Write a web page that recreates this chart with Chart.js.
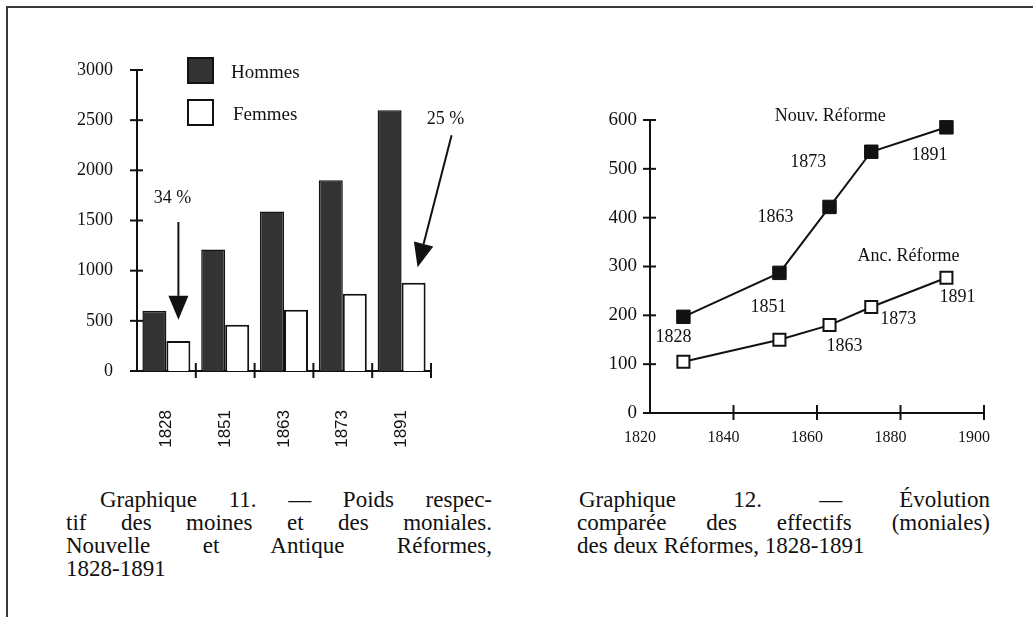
<!DOCTYPE html>
<html><head><meta charset="utf-8">
<script src="https://cdn.jsdelivr.net/npm/chart.js@4/dist/chart.umd.min.js"></script>
<style>
html,body{margin:0;padding:0;background:#fff;}
body{width:1033px;height:617px;position:relative;overflow:hidden;font-family:"Liberation Serif",serif;}
#frame{position:absolute;left:6px;top:6px;width:1100px;height:700px;border-left:2px solid #3a3a3a;border-top:2px solid #3a3a3a;}
.c{position:absolute;}
.cap{position:absolute;font-family:"Liberation Serif",serif;font-size:23px;line-height:23px;color:#111;}
.cap div{text-align:justify;text-align-last:justify;white-space:nowrap;}
.cap div.last{text-align-last:left;}
</style></head>
<body>
<div id="frame"></div>
<div class="c" style="left:40px;top:40px;"><canvas id="c1" width="440" height="430"></canvas></div>
<div class="c" style="left:560px;top:80px;"><canvas id="c2" width="460" height="400"></canvas></div>
<div class="cap" style="left:66px;top:488px;width:426px;">
  <div style="padding-left:34px">Graphique 11. — Poids respec-</div>
  <div>tif des moines et des moniales.</div>
  <div>Nouvelle et Antique Réformes,</div>
  <div class="last">1828-1891</div>
</div>
<div class="cap" style="left:577px;top:488px;width:413px;">
  <div style="padding-left:2px">Graphique 12. — Évolution</div>
  <div>comparée des effectifs (moniales)</div>
  <div class="last">des deux Réformes, 1828-1891</div>
</div>
<script>
// ---------- data: chart 1 ----------
const years1 = ['1828', '1851', '1863', '1873', '1891'];
const hommes = [600, 1210, 1590, 1900, 2600];
const femmes = [300, 460, 610, 770, 880];
const seriesNames1 = ['Hommes', 'Femmes'];
const yTicks1 = [0, 500, 1000, 1500, 2000, 2500, 3000];
const shareLabels = ['34 %', '25 %'];
const shareIndex = [0, 4];          // category the arrow points at
const shareText = [1720, 2510];     // value level of the text
const shareTail = [1485, 2350];     // value level of the arrow tail
const shareTip = [510, 1035];       // value level of the arrow tip

// ---------- data: chart 2 ----------
const years2 = [1828, 1851, 1863, 1873, 1891];
const nouv = [197, 287, 422, 535, 585];
const anc = [105, 150, 180, 217, 277];
const seriesNames2 = ['Nouv. Réforme', 'Anc. Réforme'];
const nouvLabels = ['1828', '1851', '1863', '1873', '1891'];
const ancLabels = ['', '', '1863', '1873', '1891'];
const xTicks2 = [1820, 1840, 1860, 1880, 1900];
const yTicks2 = [0, 100, 200, 300, 400, 500, 600];

// ---------- styling / placement (not data) ----------
const INK = '#121212';
const SERIF = '"Liberation Serif", "DejaVu Serif", serif';
const SANS = '"Liberation Sans", Arial, sans-serif';
const nouvOff = [[-10, 20], [-11, 34], [-54, 10], [-63, 11], [-17, 28]];
const ancOff = [null, null, [15, 21], [27, 12], [11, 20]];
const nameAnchor = [{ds: 0, i: 3, dx: -41, dy: -35}, {ds: 1, i: 4, dx: -38, dy: -21}];
const shareDx = [{text: -6, tail: 0, tip: 0}, {text: 32, tail: 38, tip: 4}];

function crossTicks(chart, xs, ys, xPositions) {
  const ctx = chart.ctx;
  ctx.save();
  ctx.strokeStyle = INK;
  ctx.lineWidth = 2;
  ys.ticks.forEach(t => {
    const y = ys.getPixelForValue(t.value);
    ctx.beginPath(); ctx.moveTo(ys.right - 7, y); ctx.lineTo(ys.right + 6, y); ctx.stroke();
  });
  xPositions.forEach(x => {
    ctx.beginPath(); ctx.moveTo(x, xs.top - 8); ctx.lineTo(x, xs.top + 7); ctx.stroke();
  });
  ctx.restore();
}

function arrow(ctx, x1, y1, x2, y2) {
  const ang = Math.atan2(y2 - y1, x2 - x1);
  const L = 24, W = 10;
  const bx = x2 - L * Math.cos(ang), by = y2 - L * Math.sin(ang);
  ctx.beginPath(); ctx.moveTo(x1, y1); ctx.lineTo(bx, by); ctx.stroke();
  ctx.beginPath();
  ctx.moveTo(x2, y2);
  ctx.lineTo(bx + W * Math.sin(ang), by - W * Math.cos(ang));
  ctx.lineTo(bx - W * Math.sin(ang), by + W * Math.cos(ang));
  ctx.closePath(); ctx.fill();
}

const plugin1 = {
  id: 'deco1',
  afterDraw(chart) {
    const xs = chart.scales.x, ys = chart.scales.y, ctx = chart.ctx;
    const n = years1.length, w = xs.width / n;
    const pos = [];
    for (let i = 1; i <= n; i++) pos.push(xs.left + i * w);
    crossTicks(chart, xs, ys, pos);
    // legend
    const a = chart.chartArea;
    ctx.save();
    chart.data.datasets.forEach((ds, k) => {
      const bx = a.left + 51, by = a.top - 12 + k * 42;
      ctx.fillStyle = ds.backgroundColor;
      ctx.strokeStyle = INK; ctx.lineWidth = 2;
      ctx.fillRect(bx, by, 25, 25); ctx.strokeRect(bx, by, 25, 25);
      ctx.fillStyle = INK; ctx.font = '19px ' + SERIF;
      ctx.textBaseline = 'middle'; ctx.textAlign = 'left';
      ctx.fillText(ds.label, bx + 43 + k * 2, by + 15);
    });
    // share arrows
    const meta = chart.getDatasetMeta(1);
    ctx.fillStyle = INK; ctx.strokeStyle = INK; ctx.lineWidth = 2;
    shareLabels.forEach((lab, k) => {
      const bar = meta.data[shareIndex[k]];
      const d = shareDx[k];
      ctx.font = '18px ' + SERIF; ctx.textAlign = 'center'; ctx.textBaseline = 'middle';
      ctx.fillText(lab, bar.x + d.text, ys.getPixelForValue(shareText[k]));
      arrow(ctx, bar.x + d.tail, ys.getPixelForValue(shareTail[k]), bar.x + d.tip, ys.getPixelForValue(shareTip[k]));
    });
    ctx.restore();
  }
};

new Chart(document.getElementById('c1'), {
  type: 'bar',
  data: {
    labels: years1,
    datasets: [
      {label: seriesNames1[0], data: hommes, backgroundColor: '#333333', borderColor: INK, borderWidth: 1.5},
      {label: seriesNames1[1], data: femmes, backgroundColor: '#ffffff', borderColor: INK, borderWidth: 2}
    ]
  },
  options: {
    responsive: false, animation: false, devicePixelRatio: 1,
    layout: {padding: {top: 30, right: 49, left: 0, bottom: 0}},
    datasets: {bar: {categoryPercentage: 0.816, barPercentage: 1.0}},
    plugins: {legend: {display: false}, tooltip: {enabled: false}},
    scales: {
      x: {
        grid: {display: false},
        border: {display: true, color: INK, width: 2},
        ticks: {color: INK, font: {family: SANS, size: 17}, minRotation: 90, maxRotation: 90, autoSkip: false, padding: 31},
        afterFit(s) { s.height = 99; }
      },
      y: {
        min: 0, max: 3000,
        grid: {display: false},
        border: {display: true, color: INK, width: 2},
        afterBuildTicks(s) { s.ticks = yTicks1.map(v => ({value: v})); },
        ticks: {color: INK, font: {family: SERIF, size: 18}, padding: 16, callback: v => String(v)},
        afterFit(s) { s.width = 97; }
      }
    }
  },
  plugins: [plugin1]
});

const plugin2 = {
  id: 'deco2',
  afterDraw(chart) {
    const xs = chart.scales.x, ys = chart.scales.y, ctx = chart.ctx;
    crossTicks(chart, xs, ys, xTicks2.slice(1).map(v => xs.getPixelForValue(v)));
    ctx.save();
    ctx.fillStyle = INK; ctx.font = '18px ' + SERIF;
    ctx.textAlign = 'center'; ctx.textBaseline = 'middle';
    const m0 = chart.getDatasetMeta(0).data, m1 = chart.getDatasetMeta(1).data;
    nouvLabels.forEach((t, i) => { if (t) ctx.fillText(t, m0[i].x + nouvOff[i][0], m0[i].y + nouvOff[i][1]); });
    ancLabels.forEach((t, i) => { if (t) ctx.fillText(t, m1[i].x + ancOff[i][0], m1[i].y + ancOff[i][1]); });
    nameAnchor.forEach((na, k) => {
      const p = chart.getDatasetMeta(na.ds).data[na.i];
      ctx.fillText(chart.data.datasets[na.ds].label, p.x + na.dx, p.y + na.dy);
    });
    ctx.restore();
  }
};

new Chart(document.getElementById('c2'), {
  type: 'line',
  data: {
    datasets: [
      {label: seriesNames2[0], data: years2.map((x, i) => ({x, y: nouv[i]})),
       borderColor: INK, borderWidth: 2, pointStyle: 'rect', pointRadius: 9.5,
       pointBackgroundColor: INK, pointBorderColor: INK, pointBorderWidth: 1},
      {label: seriesNames2[1], data: years2.map((x, i) => ({x, y: anc[i]})),
       borderColor: INK, borderWidth: 2, pointStyle: 'rect', pointRadius: 8.5,
       pointBackgroundColor: '#ffffff', pointBorderColor: INK, pointBorderWidth: 2}
    ]
  },
  options: {
    responsive: false, animation: false, devicePixelRatio: 1,
    layout: {padding: {top: 40, right: 36, left: 0, bottom: 0}},
    plugins: {legend: {display: false}, tooltip: {enabled: false}},
    scales: {
      x: {
        type: 'linear', min: 1820, max: 1900,
        grid: {display: false},
        border: {display: true, color: INK, width: 2},
        afterBuildTicks(s) { s.ticks = xTicks2.map(v => ({value: v})); },
        ticks: {color: INK, font: {family: SERIF, size: 16}, padding: 7, labelOffset: -10,
                callback: v => String(v)},
        afterFit(s) { s.height = 67; }
      },
      y: {
        min: 0, max: 600,
        grid: {display: false},
        border: {display: true, color: INK, width: 2},
        afterBuildTicks(s) { s.ticks = yTicks2.map(v => ({value: v})); },
        ticks: {color: INK, font: {family: SERIF, size: 19}, padding: 5},
        afterFit(s) { s.width = 90; }
      }
    }
  },
  plugins: [plugin2]
});
</script>
</body></html>
